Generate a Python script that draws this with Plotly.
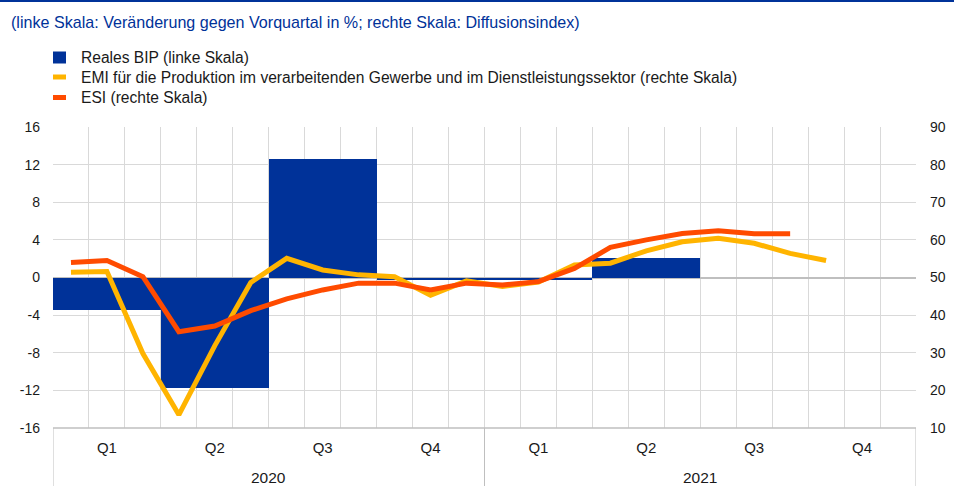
import plotly.graph_objects as go

# ---- data ----
quarters = ["Q1", "Q2", "Q3", "Q4", "Q1", "Q2", "Q3", "Q4"]
years = ["2020", "2021"]
gdp = [-3.5, -11.7, 12.6, -0.3, -0.3, 2.1]  # Q1 2020 .. Q2 2021
pmi = [51.4, 51.6, 29.8, 13.5, 31.9, 48.7, 55.1, 52.0, 50.7, 50.2, 45.3, 49.1,
       47.6, 48.8, 53.3, 53.8, 57.1, 59.5, 60.4, 59.1, 56.4, 54.5]  # Jan 2020 .. Oct 2021
esi = [54.0, 54.5, 50.2, 35.6, 37.1, 41.2, 44.3, 46.7, 48.5, 48.5, 46.7, 48.5,
       48.0, 48.9, 52.4, 58.0, 60.0, 61.7, 62.4, 61.6, 61.6]  # Jan 2020 .. Sep 2021
left_ticks = [-16, -12, -8, -4, 0, 4, 8, 12, 16]
left_tick_labels = ["-16", "-12", "-8", "-4", "0", "4", "8", "12", "16"]
right_ticks = [10, 20, 30, 40, 50, 60, 70, 80, 90]
title = "(linke Skala: Veränderung gegen Vorquartal in %; rechte Skala: Diffusionsindex)"
legend_names = ["Reales BIP (linke Skala)",
                "EMI für die Produktion im verarbeitenden Gewerbe und im Dienstleistungssektor (rechte Skala)",
                "ESI (rechte Skala)"]

BLUE = "#003299"
YELLOW = "#FFB400"
ORANGE = "#FF4B00"
FONT = "Liberation Sans, Arial, sans-serif"
TXT = "#1a1a1a"

q_x = [3 * i + 1.5 for i in range(len(quarters))]
m_pmi = [i + 0.5 for i in range(len(pmi))]
m_esi = [i + 0.5 for i in range(len(esi))]

PW, PH = 863, 301  # plot area size in px
L, T = 53, 127

fig = go.Figure()
fig.add_trace(go.Bar(x=q_x[:len(gdp)], y=gdp, width=3, marker=dict(color=BLUE, line=dict(width=0)),
                     name=legend_names[0], showlegend=False, yaxis="y"))
fig.add_trace(go.Scatter(x=m_pmi, y=pmi, mode="lines", line=dict(color=YELLOW, width=5),
                         name=legend_names[1], showlegend=False, yaxis="y2"))
fig.add_trace(go.Scatter(x=m_esi, y=esi, mode="lines", line=dict(color=ORANGE, width=5),
                         name=legend_names[2], showlegend=False, yaxis="y2"))

fig.update_layout(
    width=954, height=501,
    margin=dict(l=L, r=954 - L - PW, t=T, b=501 - T - PH, autoexpand=False),
    plot_bgcolor="white", paper_bgcolor="white",
    font=dict(family=FONT, size=14, color=TXT),
    bargap=0,
    xaxis=dict(range=[0, 24], tickvals=q_x, ticktext=quarters, showgrid=False,
               ticks="", tickfont=dict(size=15), zeroline=False, ticklabelstandoff=9,
               minor=dict(tickvals=list(range(25)), showgrid=True, gridcolor="#d9d9d9", gridwidth=1),
               showline=False),
    yaxis=dict(range=[-16, 16], tickvals=left_ticks, ticktext=left_tick_labels,
               gridcolor="#d9d9d9", zeroline=True,
               zerolinecolor="#bfbfbf", zerolinewidth=1.5, ticks="", tickfont=dict(size=14),
               ticklabelstandoff=12),
    yaxis2=dict(range=[10, 90], tickvals=right_ticks, overlaying="y", side="right", showgrid=False,
                zeroline=False, ticks="", tickfont=dict(size=14), ticklabelstandoff=13),
)

def px(xp):
    return (xp - L) / PW

def py(yp):
    return (T + PH - yp) / PH

# top rule
fig.add_shape(type="line", xref="paper", yref="paper", x0=px(0), x1=px(954),
              y0=py(1), y1=py(1), line=dict(color=BLUE, width=2))

# bottom axis line
fig.add_shape(type="line", xref="paper", yref="paper", x0=0, x1=1, y0=0, y1=0,
              line=dict(color="#bfbfbf", width=1.5))
# year separators below axis
for xv in [0, 12, 24]:
    fig.add_shape(type="line", xref="x", yref="paper", x0=xv, x1=xv, y0=0, y1=py(486),
                  line=dict(color="#bfbfbf", width=1))

# year labels
for i, yr in enumerate(years):
    fig.add_annotation(x=12 * i + 6, y=py(477), xref="x", yref="paper", text=yr,
                       showarrow=False, font=dict(size=15.5), yanchor="middle")

# title
fig.add_annotation(x=px(9), y=py(22), xref="paper", yref="paper", text=title,
                   showarrow=False, xanchor="left", yanchor="middle",
                   font=dict(size=16.1, color=BLUE))

# custom legend
leg_y = [57.5, 77, 97.5]
leg_h = [12, 5, 5]
leg_c = [BLUE, YELLOW, ORANGE]
for name, yc, h, c in zip(legend_names, leg_y, leg_h, leg_c):
    fig.add_shape(type="rect", xref="paper", yref="paper", x0=px(53), x1=px(66),
                  y0=py(yc + h / 2), y1=py(yc - h / 2), fillcolor=c, line=dict(width=0))
    fig.add_annotation(x=px(79), y=py(yc), xref="paper", yref="paper", text=name,
                       showarrow=False, xanchor="left", yanchor="middle", font=dict(size=15.6))

fig.write_html("out.html", config={"displayModeBar": False},
               post_script="document.body.style.margin='0';")
